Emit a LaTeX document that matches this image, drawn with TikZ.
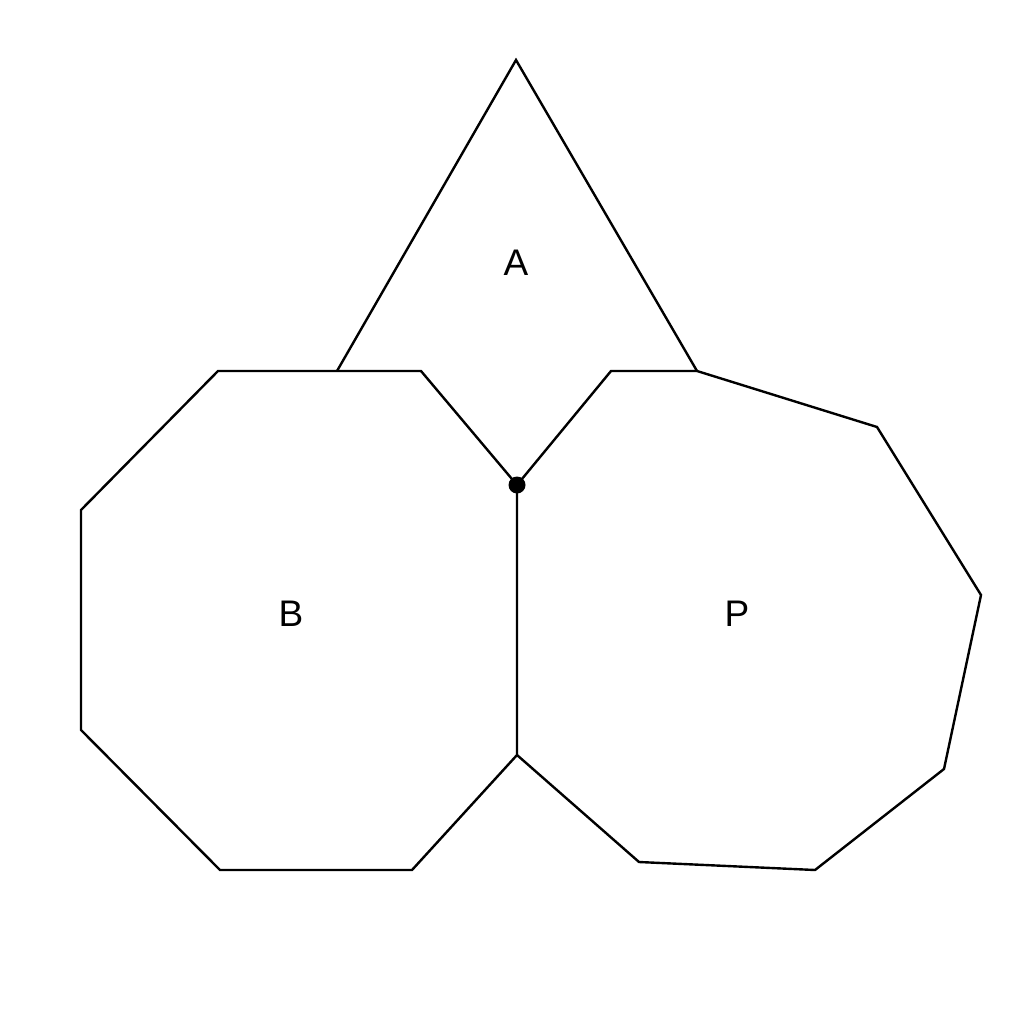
\documentclass[tikz,border=0pt]{standalone}
\usepackage{fontspec}
\setmainfont{Liberation Sans}
\usepackage{tikz}
\usetikzlibrary{calc}
\newcommand{\lablregion}[4]{\node[shape=rectangle,draw=none,fill=none, inner sep=0pt,font=\fontsize{37}{40}\selectfont] (#1) at ( #2 , #3 ) {#4};}
\newcommand{\pt}[3]{\coordinate (#1) at ( #2 , #3 );}

\begin{document}
\begin{tikzpicture}[x=1pt,y=-1pt,line width=2.4pt,line join=miter]
            \useasboundingbox (0,0) rectangle (1024,1024);
            % points
            \pt{apex}{516}{60}
            \pt{al}{337}{371}
            \pt{ar}{697}{371}
            \pt{mid}{517}{485}
            \pt{low}{517}{755}
            % B
            \pt{b1}{218}{371}
            \pt{b2}{421}{371}
            \pt{b3}{412}{870}
            \pt{b4}{220}{870}
            \pt{b5}{81}{730}
            \pt{b6}{81}{510}
            % P
            \pt{p1}{611}{371}
            \pt{p2}{877}{427}
            \pt{p3}{981}{595}
            \pt{p4}{944}{769}
            \pt{p5}{815}{870}
            \pt{p6}{639}{862}

            % triangle
            \draw (al) -- (apex) -- (ar);
            % octagon B
            \draw (b1) -- (b2) -- (mid) -- (low) -- (b3) -- (b4) -- (b5) -- (b6) -- cycle;
            % polygon P
            \draw (mid) -- (p1) -- (ar) -- (p2) -- (p3) -- (p4) -- (p5) -- (p6) -- (low);
            % dot
            \fill (mid) circle (8.5);

            % labels
            \lablregion{A}{516}{263}{A}
            \lablregion{B}{291}{614}{B}
            \lablregion{P}{737}{614}{P}
\end{tikzpicture}
\end{document}
